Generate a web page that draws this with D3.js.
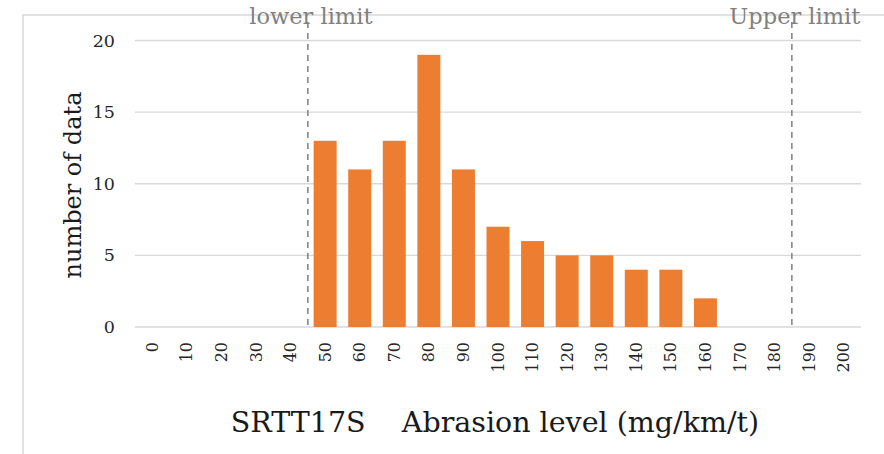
<!DOCTYPE html>
<html><head><meta charset="utf-8">
<script src="https://cdn.jsdelivr.net/npm/d3@7"></script>
<style>body{margin:0;background:#fff;} svg{display:block;}</style>
</head><body>
<svg id="c" width="884" height="454"></svg>
<script>
const categories = [0,10,20,30,40,50,60,70,80,90,100,110,120,130,140,150,160,170,180,190,200];
const counts     = [0,0,0,0,0,13,11,13,19,11,7,6,5,5,4,4,2,0,0,0,0];
const yTicks = [0,5,10,15,20];
const limits = [{label:"lower limit", value:45},{label:"Upper limit", value:185}];
const xTitle = "SRTT17S\u00a0\u00a0\u00a0\u00a0Abrasion level (mg/km/t)";
const yTitle = "number of data";

const svg = d3.select("#c");
const font = "'DejaVu Serif', serif";
const L = 135, R = 861, T = 40.5, B = 327;

// frame
svg.append("path").attr("d", `M23,454V15H884`).attr("fill","none").attr("stroke","#d9d9d9").attr("stroke-width",1.5);

const x = d3.scaleBand().domain(categories).range([L,R]).paddingInner(0.335).paddingOuter(0.335/2);
const y = d3.scaleLinear().domain([0,20]).range([B,T]);
const step = x.step();
const xv = v => L + (v/10 + 0.5)*step;

// gridlines
svg.append("g").selectAll("line").data(yTicks).join("line")
  .attr("x1",L).attr("x2",R).attr("y1",d=>y(d)).attr("y2",d=>y(d))
  .attr("stroke","#d9d9d9").attr("stroke-width",1.3);

// y labels
const yAxis = svg.append("g").attr("transform",`translate(${L},0)`)
  .call(d3.axisLeft(y).tickValues(yTicks).tickSize(0).tickPadding(20));
yAxis.select(".domain").remove();
yAxis.selectAll("text").attr("font-family",font).attr("font-size",17.5).attr("fill","#262626");

// bars
svg.append("g").selectAll("rect").data(categories.map((c,i)=>({c,v:counts[i]})).filter(d=>d.v>0)).join("rect")
  .attr("x",d=>x(d.c)).attr("width",x.bandwidth())
  .attr("y",d=>y(d.v)).attr("height",d=>y(0)-y(d.v))
  .attr("fill","#ED7D31");

// x labels
const xAxis = svg.append("g").attr("transform",`translate(0,${B})`)
  .call(d3.axisBottom(x).tickSize(0).tickPadding(0));
xAxis.select(".domain").remove();
xAxis.selectAll("text").attr("font-family",font).attr("font-size",16).attr("fill","#262626")
  .attr("text-anchor","end").attr("dy",null)
  .attr("transform","translate(0,15) rotate(-90)").attr("x",0).attr("y",0).attr("dominant-baseline","central");

// limit lines
const lg = svg.append("g");
limits.forEach(l=>{
  lg.append("line").attr("x1",xv(l.value)).attr("x2",xv(l.value)).attr("y1",22).attr("y2",B)
    .attr("stroke","#7f7f7f").attr("stroke-width",1.5).attr("stroke-dasharray","6,5");
  lg.append("text").attr("x",xv(l.value)+3).attr("y",24).attr("text-anchor","middle")
    .attr("font-family",font).attr("font-size",22.5).attr("fill","#808080").text(l.label);
});

// titles
svg.append("text").attr("x",495).attr("y",432).attr("text-anchor","middle")
  .attr("font-family",font).attr("font-size",28.5).attr("fill","#1a1a1a").text(xTitle);
svg.append("text").attr("transform","translate(81,185) rotate(-90)").attr("text-anchor","middle")
  .attr("font-family",font).attr("font-size",24).attr("fill","#1a1a1a").text(yTitle);
</script>
</body></html>
